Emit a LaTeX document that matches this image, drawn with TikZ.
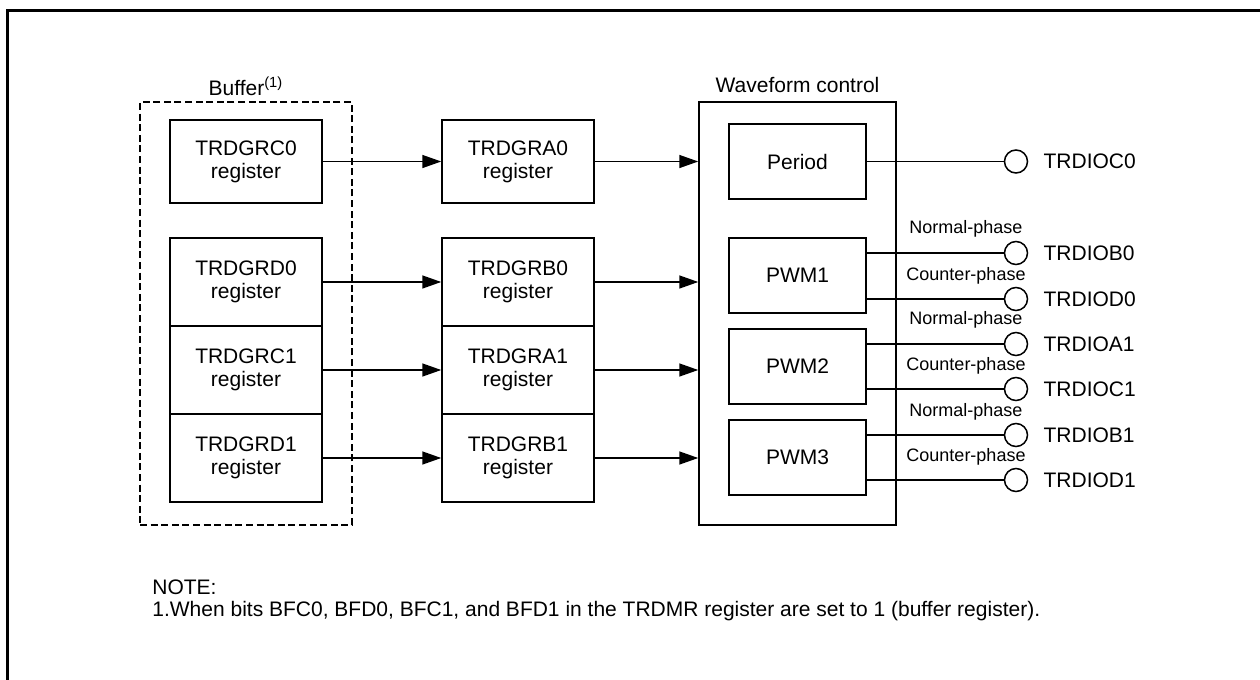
\documentclass[tikz,border=0pt]{standalone}
\usepackage{fontspec}
\setmainfont{Liberation Sans}
\usetikzlibrary{arrows.meta, positioning}

\begin{document}
\begin{tikzpicture}[x=0.5pt, y=-0.5pt,
    reg/.style={draw, line width=0.75pt, minimum width=76pt, minimum height=44pt, align=center, inner sep=0pt, font=\fontsize{10.5}{11.5}\selectfont},
    blk/.style={draw, line width=0.75pt, minimum width=68.5pt, minimum height=37.5pt, inner sep=0pt, font=\fontsize{10.5}{12}\selectfont},
    pinc/.style={draw, circle, line width=0.75pt, minimum size=11.5pt, inner sep=0pt},
    lbl/.style={inner sep=0pt, font=\fontsize{10.5}{12}\selectfont},
    phase/.style={inner sep=0pt, font=\fontsize{9}{10}\selectfont},
    arr/.style={line width=0.75pt, -{Triangle[length=9.5pt, width=6.5pt]}},
    wire/.style={line width=0.75pt}]
    \useasboundingbox (0,0) rectangle (1260,680);
    % Frame
    \draw[line width=1.5pt] (7.5,680) -- (7.5,10.5) -- (1260,10.5);

    % Buffer
    \node[draw, line width=1.1pt, dash pattern=on 3.5pt off 1.8pt, minimum width=106pt, minimum height=211.5pt] (buffer) at (246,313.5) {};
    \node[lbl] (buflbl) at (246,86) {Buffer\textsuperscript{(1)}};
    \node[reg, minimum height=41.5pt] (c0) at (246,161.5) {TRDGRC0\\register};
    \node[reg] (d0) at (246,282) {TRDGRD0\\register};
    \node[reg] (c1) at (246,370) {TRDGRC1\\register};
    \node[reg] (d1) at (246,458) {TRDGRD1\\register};

    % General registers
    \node[reg, minimum height=41.5pt] (a0) at (518,161.5) {TRDGRA0\\register};
    \node[reg] (b0) at (518,282) {TRDGRB0\\register};
    \node[reg] (a1) at (518,370) {TRDGRA1\\register};
    \node[reg] (b1) at (518,458) {TRDGRB1\\register};

    % Waveform control
    \node[draw, line width=0.75pt, minimum width=98.5pt, minimum height=211.5pt] (wave) at (797.5,313.5) {};
    \node[lbl] (wavelbl) at (797.5,85) {Waveform control};
    \node[blk] (period) at (797.5,161.5) {Period};
    \node[blk] (pwm1) at (797.5,275.5) {PWM1};
    \node[blk] (pwm2) at (797.5,366.5) {PWM2};
    \node[blk] (pwm3) at (797.5,457.5) {PWM3};

    % Arrows
    \draw[arr] (c0) -- (a0);
    \draw[arr] (d0) -- (b0);
    \draw[arr] (c1) -- (a1);
    \draw[arr] (d1) -- (b1);
    \draw[arr] (a0.east) -- (a0.east -| wave.west);
    \draw[arr] (b0.east) -- (b0.east -| wave.west);
    \draw[arr] (a1.east) -- (a1.east -| wave.west);
    \draw[arr] (b1.east) -- (b1.east -| wave.west);

    % Output pins
    \node[pinc] (pc0) at (1016,161.5) {};
    \node[pinc] (pb0) at (1016,253) {};
    \node[pinc] (pd0) at (1016,299) {};
    \node[pinc] (pa1) at (1016,344) {};
    \node[pinc] (pc1) at (1016,389) {};
    \node[pinc] (pb1) at (1016,435) {};
    \node[pinc] (pd1) at (1016,480) {};
    \node[lbl, right=7.5pt of pc0] (lc0) {TRDIOC0};
    \node[lbl, right=7.5pt of pb0] (lb0) {TRDIOB0};
    \node[lbl, right=7.5pt of pd0] (ld0) {TRDIOD0};
    \node[lbl, right=7.5pt of pa1] (la1) {TRDIOA1};
    \node[lbl, right=7.5pt of pc1] (lc1) {TRDIOC1};
    \node[lbl, right=7.5pt of pb1] (lb1) {TRDIOB1};
    \node[lbl, right=7.5pt of pd1] (ld1) {TRDIOD1};

    \draw[wire] (period) -- (pc0);
    \draw[wire] (pb0.west -| pwm1.east) -- (pb0.west);
    \draw[wire] (pd0.west -| pwm1.east) -- (pd0.west);
    \draw[wire] (pa1.west -| pwm2.east) -- (pa1.west);
    \draw[wire] (pc1.west -| pwm2.east) -- (pc1.west);
    \draw[wire] (pb1.west -| pwm3.east) -- (pb1.west);
    \draw[wire] (pd1.west -| pwm3.east) -- (pd1.west);

    \node[phase] (nb0) at (966,229) {Normal-phase};
    \node[phase] (cd0) at (966,276) {Counter-phase};
    \node[phase] (na1) at (966,320) {Normal-phase};
    \node[phase] (cc1) at (966,366) {Counter-phase};
    \node[phase] (nb1) at (966,412) {Normal-phase};
    \node[phase] (cd1) at (966,457) {Counter-phase};

    % Note
    \node[lbl, anchor=west] (note) at (152,587) {NOTE:};
    \node[lbl, anchor=west] (note1) at (152,611) {1.When bits BFC0, BFD0, BFC1, and BFD1 in the TRDMR register are set to 1 (buffer register).};
\end{tikzpicture}
\end{document}
